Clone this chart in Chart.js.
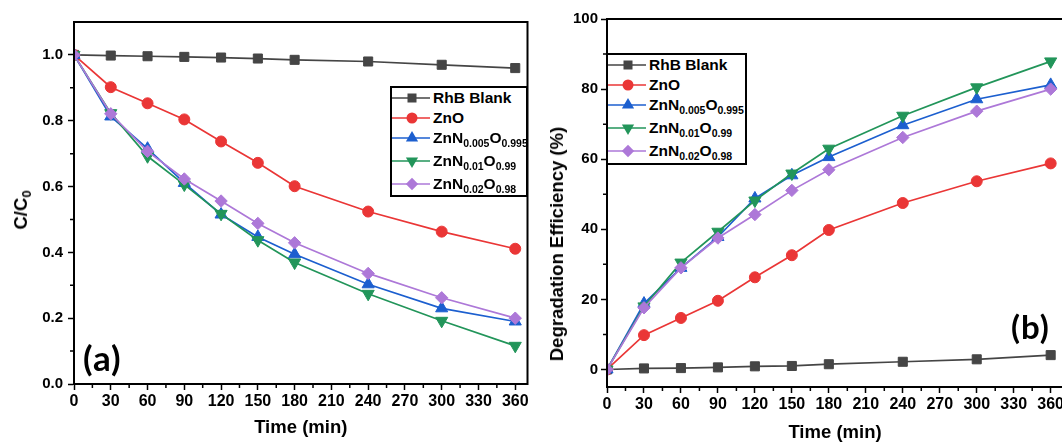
<!DOCTYPE html>
<html>
<head>
<meta charset="utf-8">
<script src="https://cdn.jsdelivr.net/npm/chart.js@4.4.1/dist/chart.umd.min.js"></script>
<style>
  html, body { margin: 0; padding: 0; background: #fff; overflow: hidden; width: 1062px; height: 444px; }
  .panel { position: absolute; top: 0; width: 540px; height: 444px; }
  #panelA { left: 0; }
  #panelB { left: 540px; }
  .legend { position: absolute; border: 2px solid #000; background: #fff; box-sizing: border-box;
            font: bold 15.5px "Liberation Sans", Arial, sans-serif; color: #000; }
  .legend .row { display: flex; align-items: center; white-space: nowrap; }
  .legend svg { flex: none; margin-right: 3px; }
  .legend sub { font-size: 10.5px; vertical-align: -4px; line-height: 0; }
  .ytitle { position: absolute; transform: translate(-50%, -50%) rotate(-90deg); white-space: nowrap;
            font: bold 18.5px "Liberation Sans", Arial, sans-serif; color: #000; }
  .ytitle sub { font-size: 13px; vertical-align: -4px; line-height: 0; }
  .tag { position: absolute; font: bold 35px Lato, sans-serif; line-height: 1; color: #000; letter-spacing: 1px; }
</style>
</head>
<body>
<div class="panel" id="panelA"><canvas id="chartA" width="540" height="444"></canvas></div>
<div class="panel" id="panelB"><canvas id="chartB" width="540" height="444"></canvas></div>

<div class="ytitle" style="left:21px; top:210px;">C/C<sub>0</sub></div>
<div class="ytitle" style="left:557px; top:244px;">Degradation Efficiency (%)</div>
<div class="legend" id="legendA" style="left:390px; top:86px; width:138px; height:111px;"></div>
<div class="legend" id="legendB" style="left:606px; top:53px; width:141px; height:112px;"></div>
<div class="tag" style="left:83px; top:340px;">(a)</div>
<div class="tag" style="left:1011px; top:310px; font-size:33px;">(b)</div>

<script>
// sampling times (min)
const times = [0, 30, 60, 90, 120, 150, 180, 240, 300, 360];

// C/C0 for each sample
const ratioBlank = [1.0, 0.998, 0.996, 0.994, 0.992, 0.989, 0.985, 0.980, 0.970, 0.960];
const ratioZnO   = [1.0, 0.902, 0.853, 0.804, 0.737, 0.672, 0.601, 0.524, 0.463, 0.411];
const ratioN005  = [1.0, 0.813, 0.715, 0.611, 0.515, 0.447, 0.394, 0.303, 0.230, 0.190];
const ratioN01   = [1.0, 0.823, 0.692, 0.606, 0.517, 0.437, 0.369, 0.274, 0.192, 0.116];
const ratioN02   = [1.0, 0.821, 0.707, 0.623, 0.556, 0.488, 0.429, 0.336, 0.262, 0.200];

// degradation efficiency (%)
const effBlank = [0, 0.3, 0.4, 0.6, 0.9, 1.0, 1.5, 2.2, 2.9, 4.1];
const effZnO   = [0, 9.8, 14.7, 19.6, 26.3, 32.6, 39.8, 47.5, 53.7, 58.8];
const effN005  = [0, 18.8, 29.0, 37.8, 48.8, 55.4, 60.6, 69.7, 77.1, 81.2];
const effN01   = [0, 18.0, 30.5, 39.3, 48.2, 55.9, 63.0, 72.4, 80.5, 87.9];
const effN02   = [0, 17.6, 29.0, 37.5, 44.2, 51.1, 57.0, 66.2, 73.7, 80.0];

const names  = ['RhB Blank', 'ZnO', 'ZnN0.005O0.995', 'ZnN0.01O0.99', 'ZnN0.02O0.98'];
const labelsHtml = ['RhB Blank', 'ZnO', 'ZnN<sub>0.005</sub>O<sub>0.995</sub>',
                    'ZnN<sub>0.01</sub>O<sub>0.99</sub>', 'ZnN<sub>0.02</sub>O<sub>0.98</sub>'];
const colors = ['#454545', '#ea3636', '#1c5fcf', '#22955a', '#ad78d8'];
const shapes = ['rect', 'circle', 'triangle', 'triangleDown', 'rectRot'];

const xTicks = { min: 0, max: 370, step: 30 };

const FONT = '"Liberation Sans", Arial, sans-serif';

function makeDatasets(seriesList) {
  return seriesList.map((vals, i) => {
    const shape = shapes[i];
    let radius = 5.5;
    if (shape === 'rect') radius = 6.4;
    if (shape === 'triangle' || shape === 'triangleDown') radius = 7;
    if (shape === 'rectRot') radius = 6.2;
    return {
      label: names[i],
      data: times.map((t, k) => ({ x: t, y: vals[k] })),
      borderColor: colors[i],
      backgroundColor: colors[i],
      borderWidth: 1.7,
      pointStyle: shape === 'triangleDown' ? 'triangle' : shape,
      rotation: shape === 'triangleDown' ? 180 : 0,
      pointRadius: radius,
      pointBorderWidth: 1,
      pointBackgroundColor: colors[i],
      pointBorderColor: colors[i],
      tension: 0,
      order: seriesList.length - i
    };
  });
}

// box frame plus short minor ticks between the major ones
const frameTicks = {
  id: 'frameTicks',
  afterDraw(chart, args, opts) {
    const { ctx, chartArea: a, scales } = chart;
    ctx.save();
    ctx.strokeStyle = '#000';
    ctx.lineWidth = 2;
    ctx.strokeRect(a.left, a.top, a.right - a.left, a.bottom - a.top);
    ctx.lineWidth = 1.5;
    ctx.beginPath();
    opts.xMinor.forEach(v => {
      const px = scales.x.getPixelForValue(v);
      ctx.moveTo(px, a.bottom);
      ctx.lineTo(px, a.bottom + 4);
    });
    opts.yMinor.forEach(v => {
      const py = scales.y.getPixelForValue(v);
      ctx.moveTo(a.left, py);
      ctx.lineTo(a.left - 4, py);
    });
    ctx.stroke();
    ctx.restore();
  }
};

function minorValues(from, to, step) {
  const out = [];
  for (let v = from; v <= to + 1e-9; v += step) out.push(Math.round(v * 1000) / 1000);
  return out;
}

function makeChart(canvasId, seriesList, cfg) {
  return new Chart(document.getElementById(canvasId), {
    type: 'line',
    data: { datasets: makeDatasets(seriesList) },
    plugins: [frameTicks],
    options: {
      responsive: false,
      animation: false,
      events: [],
      layout: { padding: { top: cfg.padTop, right: cfg.padRight, left: 0, bottom: 0 } },
      plugins: {
        legend: { display: false },
        tooltip: { enabled: false },
        frameTicks: { xMinor: minorValues(15, 345, 30), yMinor: cfg.yMinor }
      },
      scales: {
        x: {
          type: 'linear',
          min: xTicks.min,
          max: xTicks.max,
          afterFit(s) { s.height = cfg.xHeight; },
          border: { display: true, color: '#000', width: 2 },
          grid: { drawOnChartArea: false, drawTicks: true, tickLength: 6, tickColor: '#000', tickWidth: 1.5, color: '#000' },
          ticks: { stepSize: xTicks.step, includeBounds: false, color: '#000', padding: 2, maxRotation: 0,
                   font: { family: FONT, size: 16, weight: 'bold' } },
          title: { display: true, text: 'Time (min)', color: '#000', padding: { top: 0, bottom: cfg.xTitlePad },
                   font: { family: FONT, size: 18.5, weight: 'bold' } }
        },
        y: {
          type: 'linear',
          min: cfg.yMin,
          max: cfg.yMax,
          afterFit(s) { s.width = cfg.yWidth; },
          border: { display: true, color: '#000', width: 2 },
          grid: { drawOnChartArea: false, drawTicks: true, tickLength: 6, tickColor: '#000', tickWidth: 1.5, color: '#000' },
          ticks: { stepSize: cfg.yStep, includeBounds: false, color: '#000', padding: cfg.yTickPad,
                   callback: cfg.yFormat,
                   font: { family: FONT, size: 15, weight: 'bold' } }
        }
      }
    }
  });
}

makeChart('chartA', [ratioBlank, ratioZnO, ratioN005, ratioN01, ratioN02], {
  padTop: 22, padRight: 12.5, xHeight: 60, yWidth: 74,
  yMin: 0, yMax: 1.1, yStep: 0.2, yTickPad: 5,
  yMinor: minorValues(0.1, 0.9, 0.2),
  yFormat: v => v.toFixed(1),
  xTitlePad: 5
});

makeChart('chartB', [effBlank, effZnO, effN005, effN01, effN02], {
  padTop: 19, padRight: 17, xHeight: 57, yWidth: 67,
  yMin: -5, yMax: 100, yStep: 20, yTickPad: 3,
  yMinor: minorValues(10, 90, 20),
  yFormat: v => String(v),
  xTitlePad: 0
});

// legends with subscripted formulas
const rowHeights = [19.5, 20, 21.5, 23.5, 22.5];

function markerSvg(i) {
  const c = colors[i];
  let mark = '';
  const cx = 20, cy = 10;
  switch (shapes[i]) {
    case 'rect': mark = `<rect x="${cx - 4.5}" y="${cy - 4.5}" width="9" height="9" fill="${c}"/>`; break;
    case 'circle': mark = `<circle cx="${cx}" cy="${cy}" r="5.5" fill="${c}"/>`; break;
    case 'triangle': mark = `<polygon points="${cx},${cy - 7} ${cx + 6.1},${cy + 3.5} ${cx - 6.1},${cy + 3.5}" fill="${c}"/>`; break;
    case 'triangleDown': mark = `<polygon points="${cx},${cy + 7} ${cx + 6.1},${cy - 3.5} ${cx - 6.1},${cy - 3.5}" fill="${c}"/>`; break;
    case 'rectRot': mark = `<polygon points="${cx},${cy - 6.2} ${cx + 6.2},${cy} ${cx},${cy + 6.2} ${cx - 6.2},${cy}" fill="${c}"/>`; break;
  }
  return `<svg width="38" height="20" viewBox="0 0 38 20"><line x1="0" y1="${cy}" x2="38" y2="${cy}" stroke="${c}" stroke-width="1.7"/>${mark}</svg>`;
}

['legendA', 'legendB'].forEach(id => {
  const box = document.getElementById(id);
  box.innerHTML = names.map((n, i) =>
    `<div class="row" style="height:${rowHeights[i]}px">${markerSvg(i)}<span>${labelsHtml[i]}</span></div>`
  ).join('');
});
</script>
</body>
</html>
